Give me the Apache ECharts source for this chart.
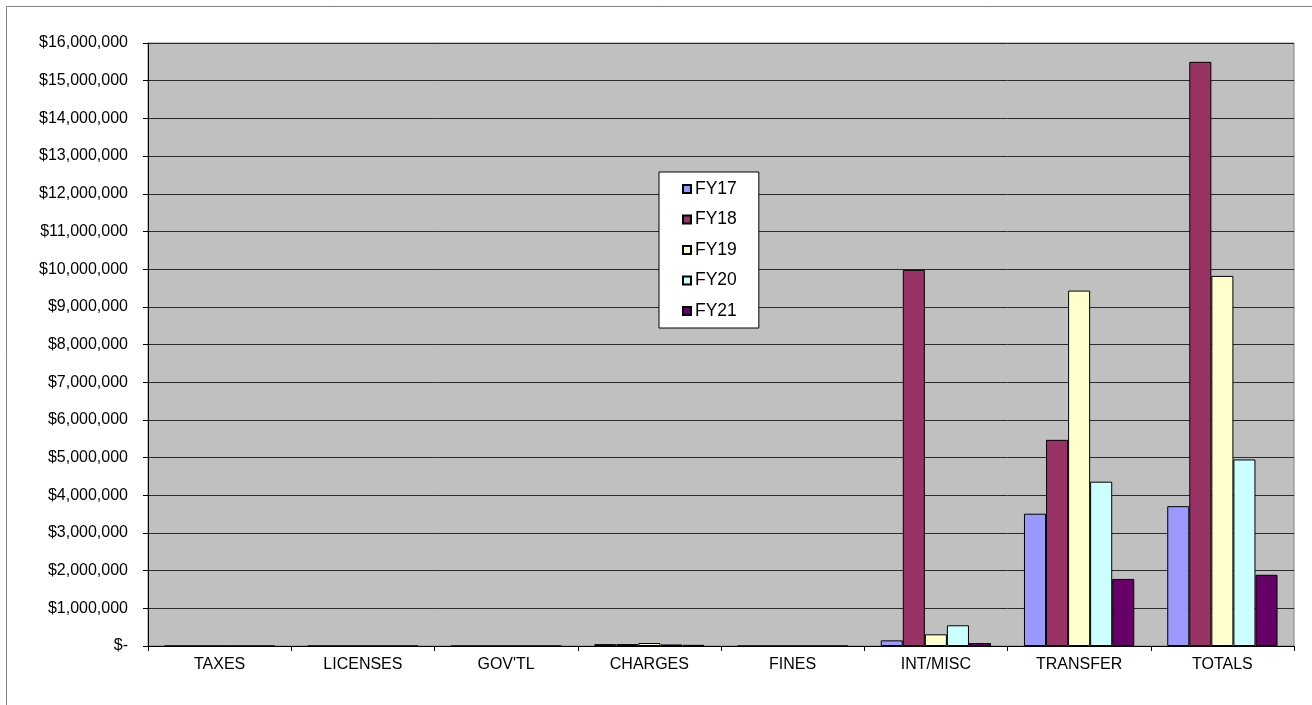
<!DOCTYPE html>
<html>
<head>
<meta charset="utf-8">
<script src="https://cdn.jsdelivr.net/npm/echarts@6/dist/echarts.min.js"></script>
<style>
  html, body { margin: 0; padding: 0; background: #fff; }
  #chart { width: 1312px; height: 705px; }
</style>
</head>
<body>
<div id="chart"></div>
<script>
// Revenue by source, fiscal years 17-21
const categories = ['TAXES', 'LICENSES', "GOV'TL", 'CHARGES', 'FINES', 'INT/MISC', 'TRANSFER', 'TOTALS'];
const seriesNames = ['FY17', 'FY18', 'FY19', 'FY20', 'FY21'];
const fy17 = [0, 0, 0, 50000, 0, 150000, 3510000, 3710000];
const fy18 = [0, 0, 0, 50000, 0, 9980000, 5470000, 15500000];
const fy19 = [0, 0, 0, 80000, 0, 310000, 9430000, 9820000];
const fy20 = [0, 0, 0, 40000, 0, 550000, 4360000, 4950000];
const fy21 = [0, 0, 0, 30000, 0, 80000, 1780000, 1890000];
const seriesColors = ['#9999FF', '#993366', '#FFFFCC', '#CCFFFF', '#660066'];

const font = '"Liberation Sans", Arial, sans-serif';

// Accounting-style dollars: zero is shown as a dash
function money(v) {
  if (v === 0) return '$-';
  return '$' + v.toLocaleString('en-US');
}

const values = [fy17, fy18, fy19, fy20, fy21];

const chart = echarts.init(document.getElementById('chart'), null, { renderer: 'canvas' });
chart.setOption({
  animation: false,
  backgroundColor: '#ffffff',
  graphic: [{
    type: 'rect',
    shape: { x: 6.5, y: 6.5, width: 1340, height: 740 },
    style: { fill: 'none', stroke: '#808080', lineWidth: 1 },
    silent: true,
    z: -1
  }],
  grid: {
    left: 148, right: 18, top: 43, bottom: 59,
    show: true,
    backgroundColor: '#C0C0C0',
    borderColor: '#808080',
    borderWidth: 1
  },
  legend: {
    orient: 'vertical',
    left: 659, top: 172,
    data: seriesNames,
    backgroundColor: '#ffffff',
    borderColor: '#000000',
    borderWidth: 1,
    padding: [7, 22, 7, 23],
    itemWidth: 8, itemHeight: 8,
    itemGap: 10.5,
    icon: 'rect',
    textStyle: { fontFamily: font, fontSize: 17.5, color: '#000', lineHeight: 20, padding: [0, 0, 0, -1] }
  },
  xAxis: {
    type: 'category',
    data: categories,
    axisLine: { lineStyle: { color: '#000', width: 1 } },
    axisTick: { show: true, length: 5, lineStyle: { color: '#000' } },
    axisLabel: { fontFamily: font, fontSize: 16, color: '#000', margin: 11 },
    splitLine: { show: false }
  },
  yAxis: {
    type: 'value',
    min: 0, max: 16000000, interval: 1000000,
    axisLine: { show: true, lineStyle: { color: '#000', width: 1 } },
    axisTick: { show: true, length: 5, lineStyle: { color: '#000' } },
    axisLabel: { fontFamily: font, fontSize: 16, color: '#000', margin: 20, formatter: money },
    splitLine: { show: true, lineStyle: { color: '#2a2a2a', width: 1 } }
  },
  series: seriesNames.map((name, i) => ({
    name: name,
    type: 'bar',
    data: values[i],
    barGap: '0%',
    barCategoryGap: '23%',
    itemStyle: { color: seriesColors[i], borderColor: '#000', borderWidth: 1 }
  }))
});
</script>
</body>
</html>
